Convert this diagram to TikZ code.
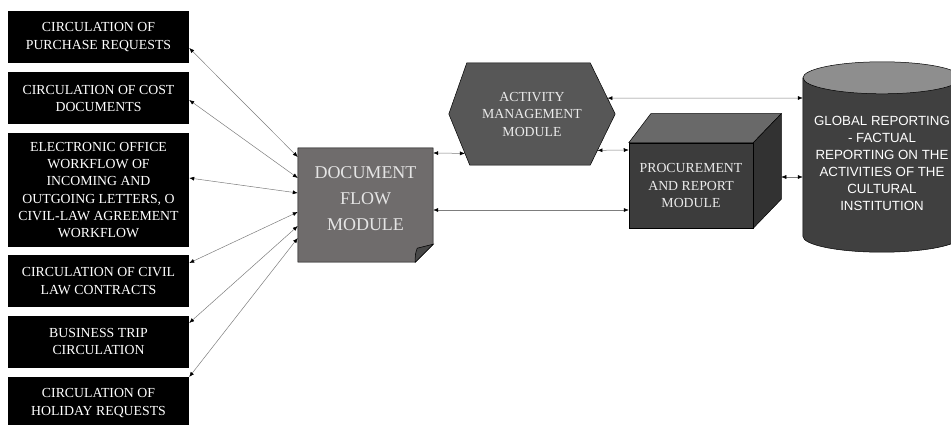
\documentclass[tikz,border=0pt]{standalone}
\usepackage{fontspec}
\setmainfont{Liberation Serif}
\setsansfont{Liberation Sans}
\usepackage{xcolor}
\usepackage{tikz}
\usetikzlibrary{calc}
\usetikzlibrary{arrows.meta}
\usetikzlibrary{backgrounds}

\definecolor{linkgray}{RGB}{125,125,125}
\definecolor{docgray}{RGB}{111,108,108}
\definecolor{foldgray}{RGB}{72,72,72}
\definecolor{hexgray}{RGB}{87,87,87}
\definecolor{procfront}{RGB}{60,60,60}
\definecolor{proctop}{RGB}{105,105,105}
\definecolor{procside}{RGB}{50,50,50}
\definecolor{cylbody}{RGB}{64,64,64}
\definecolor{cyltop}{RGB}{142,142,142}

\tikzset{
  inbox/.style={rectangle, fill=black, text=white, minimum width=181pt, minimum height=52pt,
    inner sep=0pt, align=center, font=\fontsize{13.8}{17.3}\selectfont},
  docbox/.style={rectangle, minimum width=135pt, minimum height=114pt, inner sep=0pt},
  doctext/.style={text=black!10, align=center, font=\fontsize{18}{26}\selectfont},
  hexbox/.style={rectangle, minimum width=166pt, minimum height=102pt, inner sep=0pt,
    text=black!8, align=center, font=\fontsize{13.8}{17.5}\selectfont},
  procbox/.style={rectangle, draw=black, line width=0.5pt, fill=procfront, minimum width=124pt,
    minimum height=85pt, inner sep=0pt, text=black!8, align=center, font=\fontsize{13.8}{17.5}\selectfont},
  globbox/.style={rectangle, minimum width=158pt, minimum height=170pt, inner sep=0pt,
    text=white, align=center, font=\sffamily\fontsize{13.3}{17}\selectfont},
  link/.style={{Latex[length=5pt,width=4pt,color=black]}-{Latex[length=5pt,width=4pt,color=black]},
    draw=linkgray, line width=0.5pt},
}

\begin{document}
\begin{tikzpicture}[x=1pt, y=-1pt]
\useasboundingbox (0,0) rectangle (951,425);

\node [inbox] (P1) at (98.5,37) {CIRCULATION OF\\PURCHASE REQUESTS};
\node [inbox] (P2) at (98.5,98.5) {CIRCULATION OF COST\\DOCUMENTS};
\node [inbox, minimum height=114pt] (P3) at (98.5,190) {ELECTRONIC OFFICE\\WORKFLOW OF\\INCOMING AND\\OUTGOING LETTERS, O\\CIVIL-LAW AGREEMENT\\WORKFLOW};
\node [inbox] (P4) at (98.5,281) {CIRCULATION OF CIVIL\\LAW CONTRACTS};
\node [inbox] (P5) at (98.5,341.5) {BUSINESS TRIP\\CIRCULATION};
\node [inbox] (P6) at (98.5,403) {CIRCULATION OF\\HOLIDAY REQUESTS};

\node [docbox] (DF) at (365.5,205) {};
\node [doctext] (DFT) at ([yshift=6pt]DF.center) {DOCUMENT\\FLOW\\MODULE};

\node [hexbox] (AM) at (532,114) {ACTIVITY\\MANAGEMENT\\MODULE};
\coordinate (AMnw) at ([xshift=18pt]AM.north west);
\coordinate (AMne) at ([xshift=-25pt]AM.north east);
\coordinate (AMse) at ([xshift=-25pt]AM.south east);
\coordinate (AMsw) at ([xshift=21pt]AM.south west);

\node [procbox] (PR) at (691,185.5) {PROCUREMENT\\AND REPORT\\MODULE};

\node [globbox] (GR) at (882,163) {GLOBAL REPORTING\\- FACTUAL\\REPORTING ON THE\\ACTIVITIES OF THE\\CULTURAL\\INSTITUTION};

\begin{scope}[on background layer]
\filldraw [fill=docgray, line width=0.5pt] (DF.north west) -- (DF.north east) -- ([yshift=18pt]DF.south east)
  -- ([xshift=-18pt]DF.south east) -- (DF.south west) -- cycle;
\filldraw [fill=foldgray, line width=0.5pt] ([yshift=18pt]DF.south east) -- ([xshift=-18pt]DF.south east)
  .. controls ([xshift=-18pt,yshift=8pt]DF.south east) .. ([xshift=-16pt,yshift=14pt]DF.south east) -- cycle;
\filldraw [fill=hexgray, line width=0.5pt] (AMnw) -- (AMne) -- (AM.east) -- (AMse) -- (AMsw) -- (AM.west) -- cycle;
\filldraw [fill=proctop, line width=0.5pt] (PR.north west) -- ([xshift=22pt,yshift=29pt]PR.north west)
  -- ([xshift=28pt,yshift=29pt]PR.north east) -- (PR.north east) -- cycle;
\filldraw [fill=procside, line width=0.5pt] (PR.north east) -- ([xshift=28pt,yshift=29pt]PR.north east)
  -- ([xshift=28pt,yshift=29pt]PR.south east) -- (PR.south east) -- cycle;
\filldraw [fill=cylbody, line width=0.5pt] (GR.north west) -- ([yshift=12pt]GR.south west)
  arc [start angle=180, end angle=360, x radius=79pt, y radius=16pt] -- (GR.north east) -- cycle;
\filldraw [fill=cyltop, line width=0.5pt] (GR.north) ellipse [x radius=79pt, y radius=16pt];
\end{scope}

\draw [link] ([yshift=-11pt]P1.east) -- ([yshift=48pt]DF.west);
\draw [link] ([yshift=-1.5pt]P2.east) -- ([yshift=27pt]DF.west);
\draw [link] ([yshift=12pt]P3.east) -- ([yshift=12pt]DF.west);
\draw [link] ([yshift=18pt]P4.east) -- ([yshift=-7pt]DF.west);
\draw [link] ([yshift=18.5pt]P5.east) -- ([yshift=-21pt]DF.west);
\draw [link] ([yshift=26pt]P6.east) -- ([yshift=-33pt]DF.west);

\draw [link] ([yshift=52pt]DF.east) -- ($(AM.west)!0.77!(AMsw)$);
\draw [link] ([yshift=-5pt]DF.east) -- ([yshift=-24.5pt]PR.west);
\draw [link] ($(AM.east)!0.71!(AMse)$) -- ([yshift=35.5pt]PR.west);
\draw [link] ($(AMne)!0.69!(AM.east)$) -- ([yshift=65pt]GR.west);
\draw [link] ([xshift=28pt,yshift=8.5pt]PR.east) -- ([yshift=-14pt]GR.west);
\end{tikzpicture}
\end{document}
